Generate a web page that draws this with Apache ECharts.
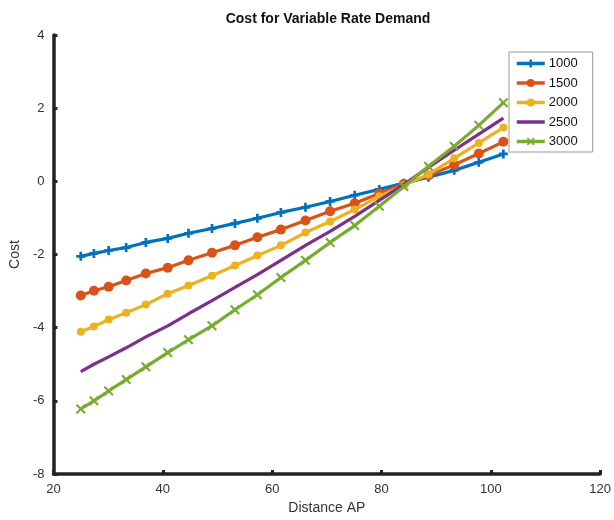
<!DOCTYPE html>
<html>
<head>
<meta charset="utf-8">
<script src="https://cdn.jsdelivr.net/npm/echarts@6/dist/echarts.min.js"></script>
<style>
html,body{margin:0;padding:0;background:#fff;}
#chart{width:614px;height:520px;}
</style>
</head>
<body>
<div id="chart"></div>
<script>
const seriesNames = ['1000', '1500', '2000', '2500', '3000'];
const distance = [25, 27.4, 30.1, 33.3, 36.9, 40.9, 44.7, 49.0, 53.2, 57.3, 61.6, 66.1, 70.6, 75.1, 79.6, 84.1, 88.6, 93.3, 97.8, 102.3];
const cost1000 = [-2.05, -1.97, -1.89, -1.81, -1.67, -1.56, -1.42, -1.29, -1.15, -1.01, -0.85, -0.71, -0.55, -0.38, -0.22, -0.05, 0.11, 0.30, 0.52, 0.75];
const cost1500 = [-3.12, -2.99, -2.88, -2.71, -2.52, -2.36, -2.16, -1.95, -1.75, -1.53, -1.32, -1.07, -0.82, -0.60, -0.33, -0.07, 0.16, 0.45, 0.76, 1.08];
const cost2000 = [-4.11, -3.97, -3.78, -3.59, -3.37, -3.07, -2.85, -2.58, -2.30, -2.03, -1.75, -1.40, -1.10, -0.77, -0.41, -0.11, 0.19, 0.63, 1.05, 1.47];
const cost2500 = [-5.20, -5.00, -4.80, -4.55, -4.25, -3.95, -3.62, -3.26, -2.90, -2.55, -2.16, -1.75, -1.37, -0.96, -0.52, -0.08, 0.38, 0.85, 1.29, 1.73];
const cost3000 = [-6.22, -6.00, -5.73, -5.42, -5.07, -4.68, -4.33, -3.95, -3.51, -3.10, -2.63, -2.16, -1.67, -1.21, -0.68, -0.14, 0.41, 0.96, 1.53, 2.15];
const xTicks = [20, 40, 60, 80, 100, 120];
const yTicks = [-8, -6, -4, -2, 0, 2, 4];

const allCosts = [cost1000, cost1500, cost2000, cost2500, cost3000];
const colors = ['#0072BD', '#D95319', '#EDB120', '#7E2F8E', '#77AC30'];
const plusPath = 'path://M3.5,0h3v3.5h3.5v3h-3.5v3.5h-3v-3.5h-3.5v-3h3.5z';
const xPath = 'path://M1.5,0L5,3.5L8.5,0L10,1.5L6.5,5L10,8.5L8.5,10L5,6.5L1.5,10L0,8.5L3.5,5L0,1.5z';
const symbols = [plusPath, 'circle', 'circle', 'none', xPath];
const symbolSizes = [9, 10, 8, 0, 10];
const font = '"Liberation Sans", Arial, Helvetica, sans-serif';

const legendData = seriesNames.map((n, i) => symbols[i] === 'none'
  ? {name: n, icon: 'path://M0,0h28v3.5h-28z'}
  : {name: n});

const chart = echarts.init(document.getElementById('chart'));
chart.setOption({
  animation: false,
  backgroundColor: '#fff',
  title: {
    text: 'Cost for Variable Rate Demand',
    left: 323, textAlign: 'center', top: 7,
    textStyle: {fontFamily: font, fontSize: 14, fontWeight: 'bold', color: '#111'}
  },
  legend: {
    orient: 'vertical',
    left: 509, top: 52,
    data: legendData,
    itemWidth: 28, itemHeight: 10, itemGap: 6.5,
    padding: [5, 15, 4, 6],
    borderColor: '#999', borderWidth: 1,
    backgroundColor: '#fff',
    lineStyle: {width: 3.5},
    textStyle: {fontFamily: font, fontSize: 13, color: '#111', padding: [0, 0, 0, -1]}
  },
  grid: {left: 46, right: 13, top: 35, bottom: 46, containLabel: false},
  xAxis: {
    type: 'value', min: 20, max: 120, interval: 20,
    name: 'Distance AP', nameLocation: 'middle', nameGap: 27,
    nameTextStyle: {fontFamily: font, fontSize: 14, color: '#333'},
    axisLine: {show: true, onZero: false, lineStyle: {color: '#222', width: 3.5}},
    axisTick: {show: true, inside: true, length: 4, lineStyle: {color: '#222', width: 3}},
    axisLabel: {fontFamily: font, fontSize: 13, color: '#333', margin: 9,
      formatter: v => xTicks.includes(v) ? String(v) : ''},
    splitLine: {show: false}
  },
  yAxis: {
    type: 'value', min: -8, max: 4, interval: 2,
    name: 'Cost', nameLocation: 'middle', nameGap: 27, nameRotate: 90,
    nameTextStyle: {fontFamily: font, fontSize: 14, color: '#333'},
    axisLine: {show: true, onZero: false, lineStyle: {color: '#222', width: 3.5}},
    axisTick: {show: true, inside: true, length: 4, lineStyle: {color: '#222', width: 3}},
    axisLabel: {fontFamily: font, fontSize: 13, color: '#333', margin: 9,
      formatter: v => yTicks.includes(v) ? String(v) : ''},
    splitLine: {show: false}
  },
  series: seriesNames.map((name, i) => ({
    name: name,
    type: 'line',
    data: distance.map((d, j) => [d, allCosts[i][j]]),
    color: colors[i],
    symbol: symbols[i],
    symbolSize: symbolSizes[i],
    showSymbol: symbols[i] !== 'none',
    lineStyle: {width: 3.2, color: colors[i]},
    itemStyle: {color: colors[i]},
    z: 2 + i
  }))
});
</script>
</body>
</html>
